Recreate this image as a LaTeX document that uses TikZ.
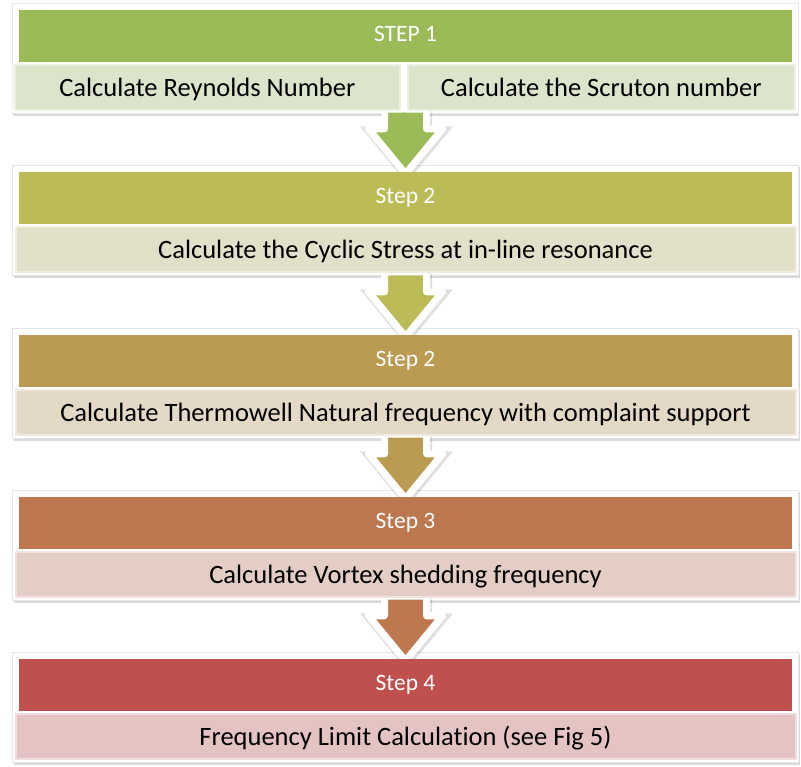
\documentclass[tikz,border=0pt]{standalone}
\usepackage{fontspec}
\setmainfont[Ligatures=NoCommon]{Carlito}
\usetikzlibrary{positioning,calc,fit,backgrounds,shadows}
\definecolor{hdrA}{HTML}{9BBB59}
\definecolor{hdrB}{HTML}{BBBB57}
\definecolor{hdrC}{HTML}{BB9A51}
\definecolor{hdrD}{HTML}{BE7850}
\definecolor{hdrE}{HTML}{C0504D}
\definecolor{subA}{HTML}{DDE4CC}
\definecolor{subB}{HTML}{E2E0C8}
\definecolor{subC}{HTML}{E4D8C6}
\definecolor{subD}{HTML}{E4CDC4}
\definecolor{subE}{HTML}{E4C3C3}
\tikzstyle{header} = [rectangle, text=white, minimum width=773pt, minimum height=52pt, inner sep=0pt, text height=16pt, text depth=5pt, font=\fontsize{23.5}{28}\selectfont]
\tikzstyle{task} = [rectangle, draw=white, draw opacity=0.45, line width=4pt, minimum width=782pt, minimum height=47pt, inner sep=0pt, text height=20pt, text depth=3pt, font=\fontsize{26.5}{32}\selectfont]
\tikzstyle{panel} = [rectangle, fill=white, draw=black!10, inner sep=0pt, drop shadow={opacity=0.3, shadow xshift=1pt, shadow yshift=-2.5pt}]
\tikzstyle{blockarrow} = [draw=white, line width=7pt, line join=round, preaction={draw=black, draw opacity=0.12, line width=9pt, transform canvas={shift={(1pt,-2pt)}}}]

\begin{document}
\begin{tikzpicture}[x=1pt,y=-1pt,node distance=0pt]
  \useasboundingbox (0,0) rectangle (801,767);
  % step 1
  \node[header, fill=hdrA] (step1) at (405.5,36) {STEP 1};
  \node[task, fill=subA, minimum width=387pt, anchor=north west] (reyn) at ($(step1.south west)+(-7,0)$) {Calculate Reynolds Number};
  \node[task, fill=subA, minimum width=389pt] (scrut) [right=2pt of reyn] {Calculate the Scruton number};
  % step 2
  \node[header, fill=hdrB] (step2) at (405.5,198) {Step 2};
  \node[task, fill=subB] (cyclic) [below=0pt of step2] {Calculate the Cyclic Stress at in-line resonance};
  % step 3
  \node[header, fill=hdrC] (step3) at (405.5,361) {Step 2};
  \node[task, fill=subC] (natfreq) [below=0pt of step3] {Calculate Thermowell Natural frequency with complaint support};
  % step 4
  \node[header, fill=hdrD] (step4) at (405.5,523) {Step 3};
  \node[task, fill=subD] (vortex) [below=0pt of step4] {Calculate Vortex shedding frequency};
  % step 5
  \node[header, fill=hdrE] (step5) at (405.5,685) {Step 4};
  \node[task, fill=subE] (limit) [below=0pt of step5] {Frequency Limit Calculation (see Fig 5)};

  \begin{pgfonlayer}{background}
    \coordinate (top1) at ($(step1.north)+(0,-7)$);
    \coordinate (top2) at ($(step2.north)+(0,-7)$);
    \coordinate (top3) at ($(step3.north)+(0,-7)$);
    \coordinate (top4) at ($(step4.north)+(0,-7)$);
    \coordinate (top5) at ($(step5.north)+(0,-7)$);
    \node[panel, fit=(top1)(step1)(reyn)(scrut)] (box1) {};
    \node[panel, fit=(top2)(step2)(cyclic)] (box2) {};
    \node[panel, fit=(top3)(step3)(natfreq)] (box3) {};
    \node[panel, fit=(top4)(step4)(vortex)] (box4) {};
    \node[panel, fit=(top5)(step5)(limit)] (box5) {};
    % arrows between steps
    \draw[blockarrow, fill=hdrA] ($(step2.north)+(0,2)$) -- ++(-37,-45) -- ++(16,0) -- ++(0,-20) -- ++(42,0) -- ++(0,20) -- ++(16,0) -- cycle;
    \draw[blockarrow, fill=hdrB] ($(step3.north)+(0,2)$) -- ++(-37,-45) -- ++(16,0) -- ++(0,-20) -- ++(42,0) -- ++(0,20) -- ++(16,0) -- cycle;
    \draw[blockarrow, fill=hdrC] ($(step4.north)+(0,2)$) -- ++(-37,-45) -- ++(16,0) -- ++(0,-20) -- ++(42,0) -- ++(0,20) -- ++(16,0) -- cycle;
    \draw[blockarrow, fill=hdrD] ($(step5.north)+(0,2)$) -- ++(-37,-45) -- ++(16,0) -- ++(0,-20) -- ++(42,0) -- ++(0,20) -- ++(16,0) -- cycle;
  \end{pgfonlayer}
\end{tikzpicture}
\end{document}
